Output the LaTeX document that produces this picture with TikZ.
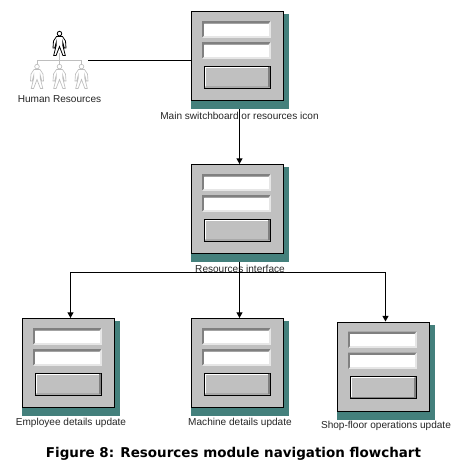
\documentclass[tikz,border=0pt]{standalone}
\usepackage{fontspec}
\setmainfont{Liberation Sans}
\newfontfamily\captionfont{DejaVu Sans}
\usetikzlibrary{arrows.meta, positioning}

\definecolor{shadowteal}{HTML}{44807C}
\definecolor{formgray}{HTML}{C0C0C0}
\definecolor{bevelgray}{HTML}{808080}
\definecolor{bevellight}{HTML}{E6E6E6}
\definecolor{ghostgray}{HTML}{BEBEBE}

% #1 name, #2 left, #3 top
\newcommand{\formicon}[3]{
  \fill[shadowteal] (#2,#3+3) rectangle (#2+98,#3+98);
  \node[formbox] (#1) at (#2,#3) {};
  \formfield{#2+11}{#3+10}
  \formfield{#2+11}{#3+31}
  \filldraw[btnedge] (#2+13,#3+55) rectangle (#2+79.5,#3+77);
  \fill[white] (#2+13.6,#3+55.6) rectangle (#2+78.9,#3+56.3);
  \fill[white] (#2+13.6,#3+55.6) rectangle (#2+14.3,#3+76.4);
  \fill[bevelgray] (#2+77,#3+56.3) -- (#2+78.9,#3+55.6) -- (#2+78.9,#3+76.4)
    -- (#2+13.6,#3+76.4) -- (#2+14.3,#3+75.6) -- (#2+77,#3+75.6) -- cycle;
  \coordinate (#1-in) at (#2+48.5,#3);
  \coordinate (#1-out) at (#2+48.5,#3+98);
}
% #1 left, #2 top
\newcommand{\formfield}[2]{
  \fill[bevellight] (#1,#2) rectangle (#1+68.5,#2+16.5);
  \fill[bevelgray] (#1,#2) -- (#1+68.5,#2) -- (#1+66.5,#2+2.5)
    -- (#1+2,#2+2.5) -- (#1+2,#2+14.5) -- (#1,#2+16.5) -- cycle;
  \fill[white] (#1+2,#2+2.5) rectangle (#1+66.5,#2+14.5);
}
% #1 style, #2 centre x, #3 top y
\newcommand{\personicon}[3]{
  \filldraw[#1] (#2,#3+2.6) circle[radius=2.3];
  \filldraw[#1] (#2-3,#3+5.5) -- (#2+3,#3+5.5) -- (#2+6,#3+10)
    -- (#2+6.5,#3+17) -- (#2+4.8,#3+17) -- (#2+3.2,#3+11) -- (#2+3.2,#3+14)
    -- (#2+5.8,#3+24.5) -- (#2+3.4,#3+24.5) -- (#2,#3+15.5)
    -- (#2-3.4,#3+24.5) -- (#2-5.8,#3+24.5) -- (#2-3.2,#3+14)
    -- (#2-3.2,#3+11) -- (#2-4.8,#3+17) -- (#2-6.5,#3+17) -- (#2-6,#3+10) -- cycle;
}

\begin{document}
\begin{tikzpicture}[
  x=0.75pt, y=-0.75pt,
  >=Stealth,
  formbox/.style={
    draw=black, fill=formgray, line width=0.8pt, anchor=north west,
    rectangle, inner sep=0pt, minimum width=69pt, minimum height=67pt
  },
  btnedge/.style={draw=black, fill=formgray, line width=0.7pt},
  lbl/.style={font=\fontsize{7.55}{9}\selectfont, text=black!85, inner sep=0pt},
  conn/.style={draw=black, line width=0.8pt},
  arr/.style={conn, -{Stealth[inset=0pt, length=4.2pt, width=4.4pt]}},
  headman/.style={draw=black, fill=white, line width=0.6pt},
  staffman/.style={draw=ghostgray, fill=white, line width=0.5pt}
]
\useasboundingbox (0,0) rectangle (458,469);
\fill[white] (0,0) rectangle (458,469);

%--- Form icons ---
\formicon{main}{191}{11}
\formicon{iface}{191}{164}
\formicon{emp}{22}{318}
\formicon{mach}{191}{318}
\formicon{shop}{337}{321.5}

%--- Human resources tree ---
\draw[ghostgray, line width=0.6pt] (59.5,53) -- (59.5,64);
\draw[ghostgray, line width=0.6pt] (37,64) |- (81.5,60.5) -- (81.5,64);
\personicon{headman}{59.5}{31}
\personicon{staffman}{37}{64}
\personicon{staffman}{59.5}{64}
\personicon{staffman}{81.5}{64}
\coordinate (hr) at (88,60.5);

%--- Labels ---
\node[lbl] (hrlbl)    at (59.5,99.5) {Human Resources};
\node[lbl] (mainlbl)  at (239.5,115.5) {Main switchboard or resources icon};
\node[lbl] (ifacelbl) at (240,269)   {Resources interface};
\node[lbl] (emplbl)   at (71,422.5)  {Employee details update};
\node[lbl] (machlbl)  at (240,422.5) {Machine details update};
\node[lbl] (shoplbl)  at (386,425.5) {Shop-floor operations update};
\node[font=\captionfont\bfseries\fontsize{10.1}{12}\selectfont, inner sep=0pt]
  (caption) at (233.5,454) {Figure 8: Resources module navigation flowchart};

%--- Connectors ---
\coordinate (bus) at (239.5,272.3);
\draw[conn] (hr) -- (hr -| main.west);
\draw[arr] (main-out) -- (iface-in);
\draw[conn] (iface-out) -- (bus);
\draw[arr] (bus) -| (emp-in);
\draw[arr] (bus) -- (mach-in);
\draw[arr] (bus) -| (shop-in);

\end{tikzpicture}
\end{document}
